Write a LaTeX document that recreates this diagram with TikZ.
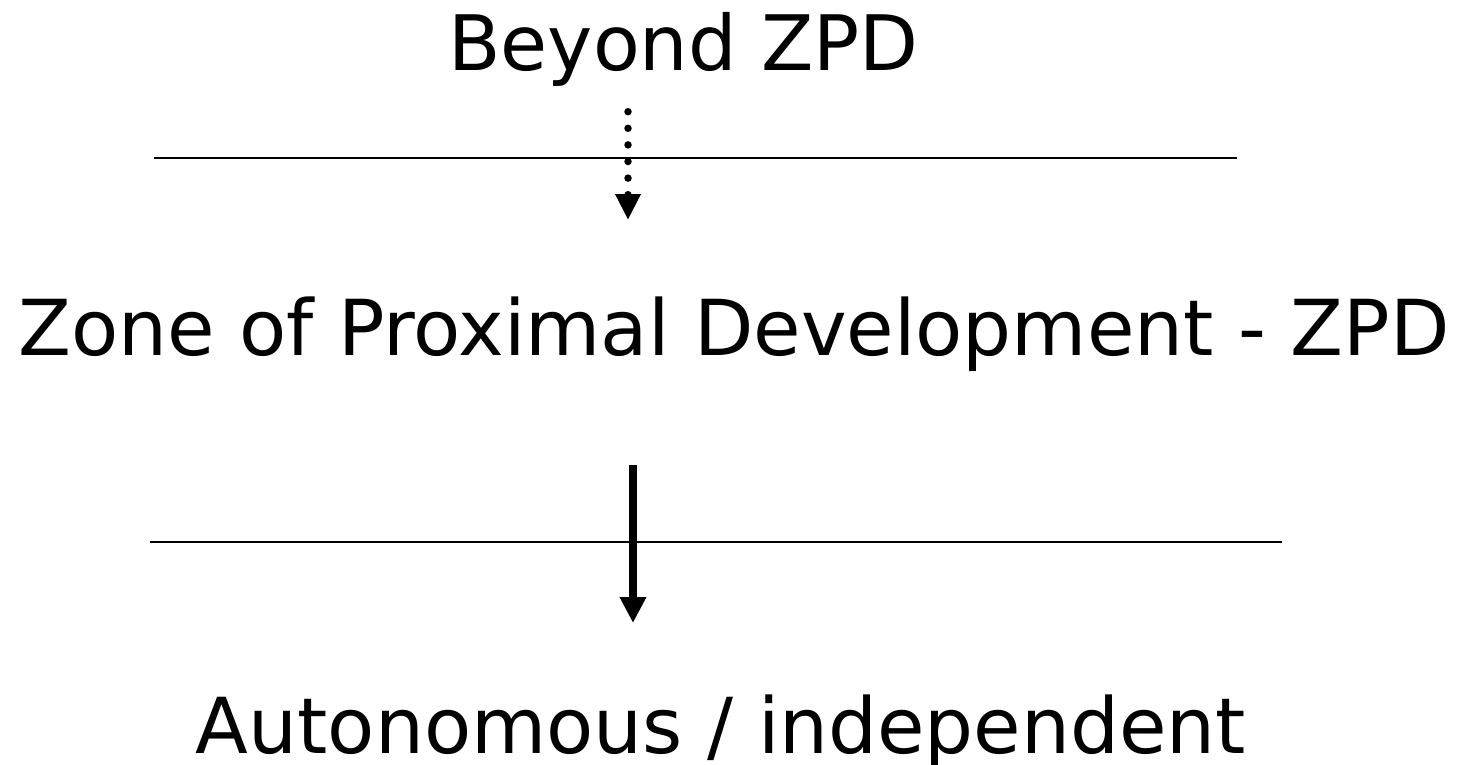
\documentclass[tikz,border=0pt]{standalone}
\usepackage{fontspec}
\setmainfont{DejaVu Sans}
\usetikzlibrary{arrows.meta}
\tikzset{
  label text/.style={anchor=base, inner sep=0pt, font=\fontsize{77.2}{90}\selectfont},
  level line/.style={line width=2pt},
  dotted arrow/.style={line width=7.5pt, line cap=round, dash pattern=on 0pt off 16.6pt,
    -{Triangle[width=24pt,length=26pt]}},
  solid arrow/.style={line width=7.5pt, -{Triangle[width=25pt,length=26pt]}}
}
\begin{document}
\begin{tikzpicture}[x=1pt,y=-1pt]
  \useasboundingbox (0,0) rectangle (1465,764);
  % levels of competence
  \node[label text, font=\fontsize{76.5}{90}\selectfont] (beyond) at (683.5,70) {Beyond ZPD};
  \node[label text] (zpd) at (734,355) {Zone of Proximal Development - ZPD};
  \node[label text] (auto) at (721,753) {Autonomous / independent};
  % boundaries between the zones
  \coordinate (l1a) at (154,158);
  \coordinate (l1b) at (1237,158);
  \coordinate (l2a) at (150,542);
  \coordinate (l2b) at (1282,542);
  \draw[level line] (l1a) -- (l1b);
  \draw[level line] (l2a) -- (l2b);
  % movement between the zones
  \coordinate (d1) at (628,111.7);
  \coordinate (d2) at (628,220);
  \coordinate (s1) at (633,465);
  \coordinate (s2) at (633,623);
  \draw[dotted arrow] (d1) -- (d2);
  \draw[solid arrow] (s1) -- (s2);
\end{tikzpicture}
\end{document}
